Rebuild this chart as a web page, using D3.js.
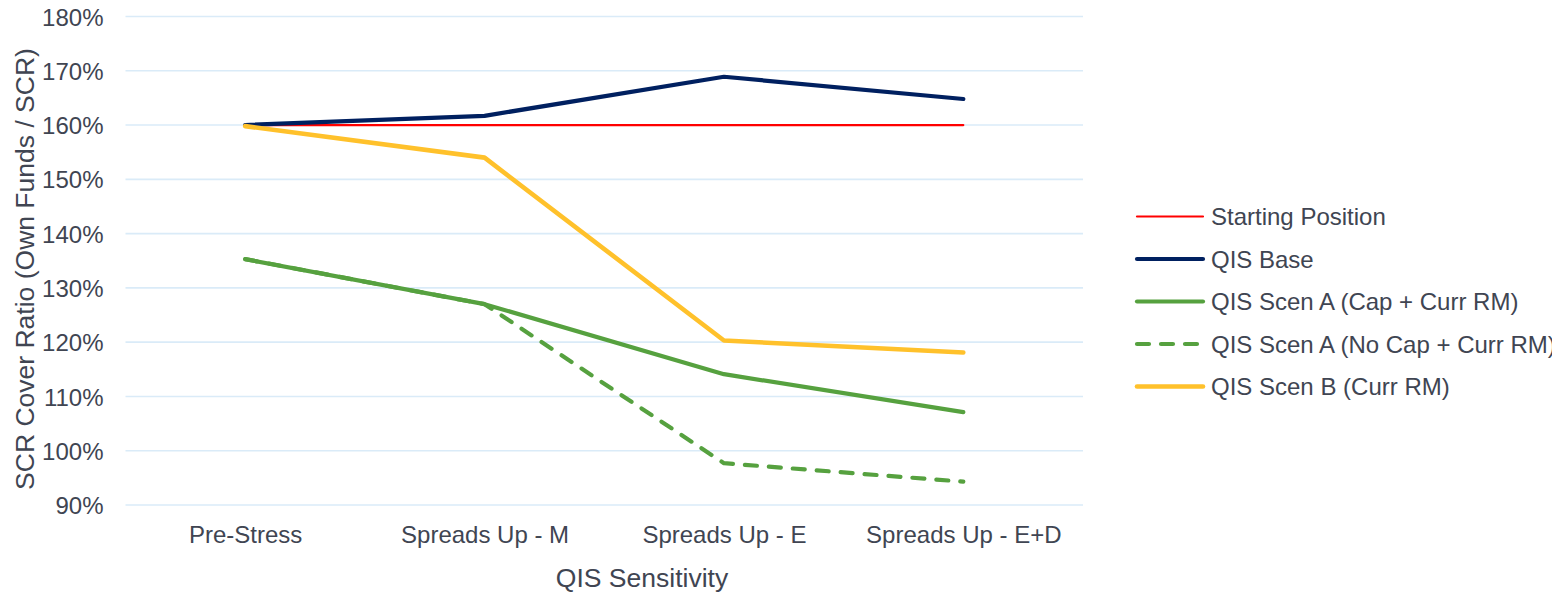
<!DOCTYPE html>
<html>
<head>
<meta charset="utf-8">
<script src="https://cdn.jsdelivr.net/npm/d3@7"></script>
<style>
  html, body { margin: 0; padding: 0; background: #ffffff; overflow: hidden; }
  svg { display: block; font-family: "Liberation Sans", Arial, sans-serif; }
</style>
</head>
<body>
<svg id="chart" width="1552" height="595"></svg>
<script>
// Sensitivity categories along the x axis
const categories = ["Pre-Stress", "Spreads Up - M", "Spreads Up - E", "Spreads Up - E+D"];

// SCR cover ratio (%) per scenario
const startingPosition = [160, 160, 160, 160];
const qisBase = [160, 161.7, 168.9, 164.8];
const scenACap = [135.3, 127.0, 114.1, 107.1];
const scenANoCap = [135.3, 127.0, 97.7, 94.3];
const scenB = [159.8, 154.0, 120.3, 118.1];

const seriesNames = [
  "Starting Position",
  "QIS Base",
  "QIS Scen A (Cap + Curr RM)",
  "QIS Scen A (No Cap + Curr RM)",
  "QIS Scen B (Curr RM)"
];

const yTicks = [90, 100, 110, 120, 130, 140, 150, 160, 170, 180];

const series = [
  { name: seriesNames[0], values: startingPosition, color: "#ff0000", width: 2.2, dash: null },
  { name: seriesNames[1], values: qisBase, color: "#002060", width: 4.2, dash: null },
  { name: seriesNames[2], values: scenACap, color: "#56a13f", width: 4.2, dash: null },
  { name: seriesNames[3], values: scenANoCap, color: "#56a13f", width: 4.2, dash: "12,12" },
  { name: seriesNames[4], values: scenB, color: "#ffc12b", width: 4.6, dash: null }
];

const svg = d3.select("#chart");
const textColor = "#404552";
const fontSize = 24;
const titleSize = 26.5;

const plot = { left: 125.5, right: 1083, top: 16.5, bottom: 505 };

const x = d3.scalePoint()
  .domain(categories)
  .range([plot.left, plot.right])
  .padding(0.5);

const y = d3.scaleLinear()
  .domain([90, 180])
  .range([plot.bottom, plot.top]);

// Horizontal gridlines
svg.append("g")
  .selectAll("line")
  .data(yTicks)
  .join("line")
  .attr("x1", plot.left)
  .attr("x2", plot.right)
  .attr("y1", d => y(d))
  .attr("y2", d => y(d))
  .attr("stroke", "#daebf8")
  .attr("stroke-width", 1.6);

// Y axis tick labels
const yAxis = d3.axisLeft(y)
  .tickValues(yTicks)
  .tickFormat(d => d + "%")
  .tickSize(0)
  .tickPadding(0);

const yg = svg.append("g")
  .attr("transform", `translate(${103.5},0)`)
  .call(yAxis);
yg.select(".domain").remove();
yg.selectAll("text")
  .attr("fill", textColor)
  .attr("font-size", fontSize)
  .attr("font-family", "Liberation Sans, Arial, sans-serif")
  .attr("dy", "0.36em");

// X axis category labels
const xAxis = d3.axisBottom(x).tickSize(0).tickPadding(0);
const xg = svg.append("g")
  .attr("transform", `translate(0,${526})`)
  .call(xAxis);
xg.select(".domain").remove();
xg.selectAll("text")
  .attr("fill", textColor)
  .attr("font-size", fontSize)
  .attr("font-family", "Liberation Sans, Arial, sans-serif")
  .attr("dy", "0.71em");

// Axis titles
svg.append("text")
  .attr("x", 642)
  .attr("y", 587)
  .attr("text-anchor", "middle")
  .attr("fill", textColor)
  .attr("font-size", titleSize)
  .text("QIS Sensitivity");

svg.append("text")
  .attr("transform", `translate(34,269) rotate(-90)`)
  .attr("text-anchor", "middle")
  .attr("fill", textColor)
  .attr("font-size", titleSize)
  .text("SCR Cover Ratio (Own Funds / SCR)");

// Series lines
const line = d3.line()
  .x((d, i) => x(categories[i]))
  .y(d => y(d));

svg.append("g")
  .selectAll("path")
  .data(series)
  .join("path")
  .attr("d", d => line(d.values))
  .attr("fill", "none")
  .attr("stroke", d => d.color)
  .attr("stroke-width", d => d.width)
  .attr("stroke-linejoin", "round")
  .attr("stroke-linecap", "round")
  .attr("stroke-dasharray", d => d.dash);

// Legend
const legend = svg.append("g");
const legendY = d3.scalePoint()
  .domain(seriesNames)
  .range([216.5, 386.5]);

const items = legend.selectAll("g")
  .data(series)
  .join("g")
  .attr("transform", d => `translate(0,${legendY(d.name)})`);

items.append("line")
  .attr("x1", 1137)
  .attr("x2", 1203)
  .attr("y1", 0)
  .attr("y2", 0)
  .attr("stroke", d => d.color)
  .attr("stroke-width", d => d.width)
  .attr("stroke-linecap", "round")
  .attr("stroke-dasharray", d => d.dash);

items.append("text")
  .attr("x", 1211)
  .attr("y", 0)
  .attr("dy", "0.36em")
  .attr("fill", textColor)
  .attr("font-size", fontSize)
  .text(d => d.name);
</script>
</body>
</html>
